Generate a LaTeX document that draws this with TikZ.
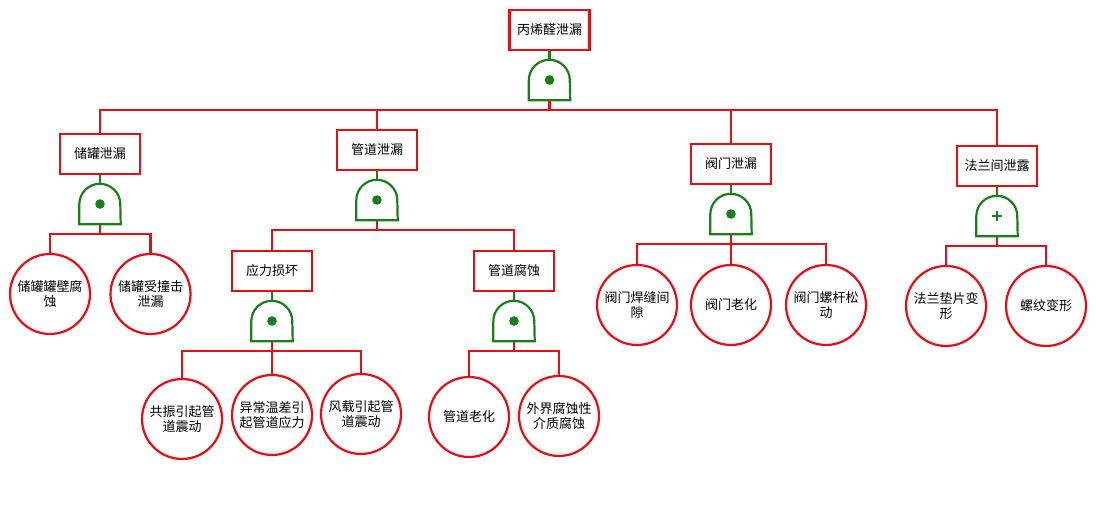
\documentclass[tikz,border=0pt]{standalone}
\usepackage{fontspec}
\setmainfont{Noto Sans CJK SC}
\definecolor{ftred}{RGB}{232,12,20}
\definecolor{ftgreen}{RGB}{24,128,24}
\tikzset{
  x=1pt,y=1pt,
  evbox/.style={draw=ftred,line width=2.2pt,fill=white,minimum width=80pt,minimum height=40pt,inner sep=0pt,font=\fontsize{13}{14}\selectfont},
  basic/.style={draw=ftred,line width=2.2pt,fill=white,circle,minimum size=80pt,inner sep=0pt,align=center,font=\fontsize{13}{14.5}\selectfont},
  gatebox/.style={minimum width=41pt,minimum height=40pt,inner sep=0pt,draw=none},
  gateline/.style={draw=ftgreen,line width=2.2pt},
  conn/.style={draw=ftred,line width=2.2pt},
  gconn/.style={draw=ftgreen,line width=2.2pt},
}
\newcommand\gateoutline[1]{\draw[gateline,fill=white] (#1.south west) -- ([yshift=-20.5pt]#1.north west) arc[start angle=180,end angle=0,radius=20.5pt] -- (#1.south east) -- cycle;}
\newcommand\anddot[1]{\fill[ftgreen] (#1.center) circle[radius=4.8pt];}
\newcommand\orplus[1]{\draw[ftgreen,line width=2.2pt] ([xshift=-5pt]#1.center) -- ([xshift=5pt]#1.center) ([yshift=-5pt]#1.center) -- ([yshift=5pt]#1.center);}
\begin{document}
\begin{tikzpicture}
\fill[white] (0,0) rectangle (1096,519);
\useasboundingbox (0,0) rectangle (1096,519);

% top
\node[evbox] (T) at (549.5,489) {丙烯醛泄漏};
\node[gatebox] (G0) at (549.5,439) {};

% level 1
\node[evbox] (A) at (100,365) {储罐泄漏};
\node[evbox] (B) at (377,369) {管道泄漏};
\node[evbox] (C) at (731,355) {阀门泄漏};
\node[evbox] (D) at (997,353) {法兰间泄露};
\node[gatebox] (GA) at (100,315) {};
\node[gatebox] (GB) at (377,319) {};
\node[gatebox] (GC) at (731,305) {};
\node[gatebox] (GD) at (997,303) {};

% level 2 under B
\node[evbox] (B1) at (272,248) {应力损坏};
\node[evbox] (B2) at (514,248) {管道腐蚀};
\node[gatebox] (GB1) at (272,198) {};
\node[gatebox] (GB2) at (514,198) {};

% basic events
\node[basic] (A1) at (50,225) {储罐罐壁腐\\蚀};
\node[basic] (A2) at (150.5,225) {储罐受撞击\\泄漏};
\node[basic] (B11) at (182,100) {共振引起管\\道震动};
\node[basic] (B12) at (272,104) {异常温差引\\起管道应力};
\node[basic] (B13) at (361,105) {风载引起管\\道震动};
\node[basic] (B21) at (469,102) {管道老化};
\node[basic] (B22) at (559,103) {外界腐蚀性\\介质腐蚀};
\node[basic] (C1) at (637,214) {阀门焊缝间\\隙};
\node[basic] (C2) at (731,214) {阀门老化};
\node[basic] (C3) at (826,214) {阀门螺杆松\\动};
\node[basic] (D1) at (946,213) {法兰垫片变\\形};
\node[basic] (D2) at (1046,213) {螺纹变形};

% box to gate connectors
\foreach \e/\g in {T/G0,A/GA,B/GB,C/GC,D/GD,B1/GB1,B2/GB2}
  \draw[gconn] (\e.south) -- (\g.north);

% gate to children connectors
\foreach \g/\c in {G0/A,G0/B,G0/C,G0/D,GA/A1,GA/A2,GB/B1,GB/B2,GB1/B11,GB1/B12,GB1/B13,GB2/B21,GB2/B22,GC/C1,GC/C2,GC/C3,GD/D1,GD/D2}
  \draw[conn] (\g.south) -- ++(0,-10) -| (\c.north);

% gates
\foreach \g in {G0,GA,GB,GC,GD,GB1,GB2} {\gateoutline{\g}}
\foreach \g in {G0,GA,GB,GC,GB1,GB2} {\anddot{\g}}
\orplus{GD}
\end{tikzpicture}
\end{document}
